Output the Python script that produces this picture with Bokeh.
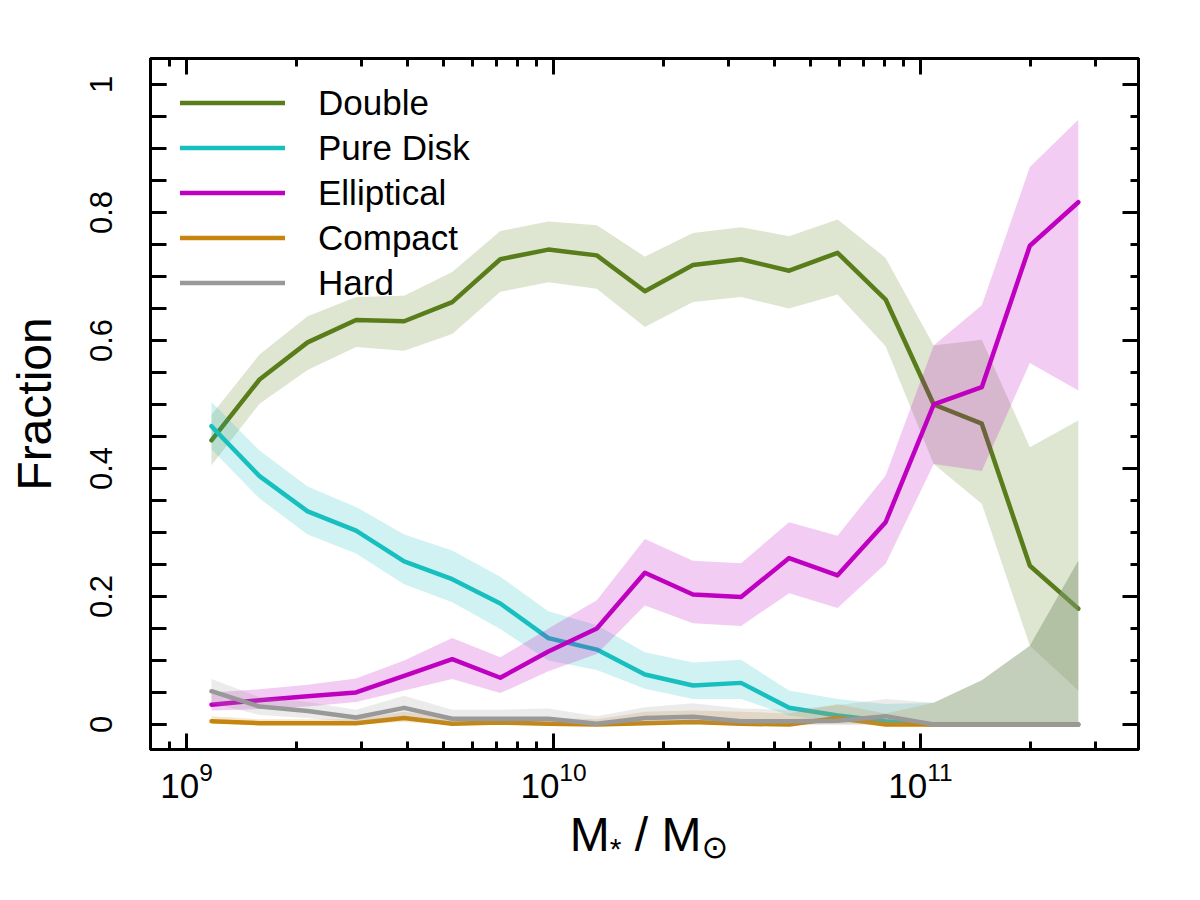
import numpy as np
from bokeh.plotting import figure
from bokeh.layouts import column
from bokeh.models import (ColumnDataSource, FixedTicker, LinearAxis, LogAxis,
                          LogTickFormatter, Legend, LegendItem, Range1d, Div)
from bokeh.embed import file_html
from bokeh.resources import INLINE

# ---------------- data ----------------
log_mass = [9.068, 9.199, 9.330, 9.462, 9.593, 9.724, 9.855, 9.986, 10.118, 10.249,
            10.380, 10.511, 10.642, 10.774, 10.905, 11.036, 11.167, 11.298, 11.430]

double = [0.444, 0.539, 0.597, 0.632, 0.630, 0.660, 0.727, 0.742, 0.733, 0.677,
          0.718, 0.727, 0.709, 0.737, 0.664, 0.500, 0.470, 0.248, 0.181]
double_hi = [0.484, 0.578, 0.638, 0.668, 0.670, 0.707, 0.771, 0.786, 0.780, 0.731,
             0.768, 0.777, 0.763, 0.789, 0.729, 0.592, 0.601, 0.433, 0.475]
double_lo = [0.405, 0.501, 0.554, 0.590, 0.584, 0.610, 0.676, 0.691, 0.681, 0.621,
             0.660, 0.668, 0.650, 0.672, 0.591, 0.407, 0.345, 0.123, 0.053]

disk = [0.466, 0.388, 0.333, 0.303, 0.255, 0.227, 0.189, 0.135, 0.117, 0.078,
        0.061, 0.065, 0.026, 0.014, 0.005, 0.0, 0.0, 0.0, 0.0]
disk_hi = [0.504, 0.428, 0.372, 0.340, 0.297, 0.272, 0.231, 0.177, 0.155, 0.113,
           0.097, 0.101, 0.053, 0.040, 0.032, 0.034, 0.069, 0.123, 0.256]
disk_lo = [0.430, 0.353, 0.297, 0.267, 0.219, 0.191, 0.149, 0.100, 0.085, 0.056,
           0.040, 0.040, 0.014, 0.004, 0.0, 0.0, 0.0, 0.0, 0.0]

ellip = [0.031, 0.038, 0.044, 0.050, 0.076, 0.102, 0.073, 0.114, 0.150, 0.237,
         0.203, 0.199, 0.260, 0.233, 0.316, 0.500, 0.527, 0.748, 0.816]
ellip_hi = [0.050, 0.055, 0.062, 0.072, 0.100, 0.135, 0.105, 0.150, 0.194, 0.290,
            0.256, 0.252, 0.316, 0.295, 0.389, 0.592, 0.655, 0.871, 0.945]
ellip_lo = [0.022, 0.024, 0.028, 0.035, 0.053, 0.071, 0.049, 0.083, 0.110, 0.186,
            0.158, 0.154, 0.205, 0.182, 0.251, 0.407, 0.396, 0.565, 0.522]

compact = [0.005, 0.002, 0.002, 0.002, 0.010, 0.001, 0.003, 0.001, 0.000, 0.002,
           0.004, 0.001, 0.000, 0.010, 0.000, 0.0, 0.0, 0.0, 0.0]
compact_hi = [0.013, 0.008, 0.008, 0.008, 0.020, 0.010, 0.012, 0.010, 0.008, 0.020,
              0.022, 0.020, 0.017, 0.032, 0.017, 0.034, 0.069, 0.123, 0.256]
compact_lo = [0.001, 0.0, 0.0, 0.0, 0.004, 0.0, 0.0, 0.0, 0.0, 0.0,
              0.0, 0.0, 0.0, 0.0, 0.0, 0.0, 0.0, 0.0, 0.0]

hard = [0.052, 0.028, 0.021, 0.011, 0.026, 0.009, 0.009, 0.009, 0.001, 0.010,
        0.012, 0.005, 0.005, 0.006, 0.013, 0.0, 0.0, 0.0, 0.0]
hard_hi = [0.071, 0.043, 0.035, 0.023, 0.045, 0.023, 0.023, 0.025, 0.013, 0.027,
           0.033, 0.025, 0.023, 0.030, 0.040, 0.034, 0.069, 0.123, 0.256]
hard_lo = [0.033, 0.015, 0.010, 0.003, 0.012, 0.001, 0.001, 0.001, 0.0, 0.001,
           0.002, 0.0, 0.0, 0.0, 0.0, 0.0, 0.0, 0.0, 0.0]

categories = ["Double", "Pure Disk", "Elliptical", "Compact", "Hard"]
colors = ["#587D1A", "#17BFBF", "#C000C0", "#C5850F", "#999999"]

x_ticks = [1e9, 1e10, 1e11]
y_ticks = [0.0, 0.2, 0.4, 0.6, 0.8, 1.0]
y_tick_labels = ["0", "0.2", "0.4", "0.6", "0.8", "1"]
x_title_html = ('M<span style="font-size:30px;position:relative;top:8px">*</span>'
                ' / M<span style="font-family:\'DejaVu Sans\';font-size:32px;'
                'position:relative;top:7px">\u2299</span>')
y_title = "Fraction"

FONT = "Liberation Sans"

# ---------------- build ----------------
src = ColumnDataSource(dict(
    mass=[10 ** v for v in log_mass],
    double=double, double_hi=double_hi, double_lo=double_lo,
    disk=disk, disk_hi=disk_hi, disk_lo=disk_lo,
    ellip=ellip, ellip_hi=ellip_hi, ellip_lo=ellip_lo,
    compact=compact, compact_hi=compact_hi, compact_lo=compact_lo,
    hard=hard, hard_hi=hard_hi, hard_lo=hard_lo,
))

p = figure(x_axis_type="log",
           x_range=Range1d(10 ** 8.9019, 10 ** 11.594),
           y_range=Range1d(-0.0391, 1.0406),
           frame_width=988, frame_height=691,
           min_border_left=150, min_border_top=58,
           min_border_right=46, min_border_bottom=65,
           output_backend="svg", toolbar_location=None,
           background_fill_color="white", border_fill_color="white")
p.xgrid.visible = False
p.ygrid.visible = False
p.outline_line_color = "black"
p.outline_line_width = 3

keys = ["double", "disk", "ellip", "compact", "hard"]
line_renderers = []
for key, col in zip(keys, colors):
    p.varea(x="mass", y1=key + "_lo", y2=key + "_hi", source=src,
            fill_color=col, fill_alpha=0.2)
    r = p.line(x="mass", y=key, source=src, line_color=col, line_width=4.5,
               line_join="round", line_cap="round")
    line_renderers.append(r)

x_minor = [m * 10 ** e for e in (8, 9, 10, 11) for m in range(2, 10)]
y_minor = [round(0.05 * k, 2) for k in range(0, 21)]
xticker = FixedTicker(ticks=x_ticks, minor_ticks=x_minor)
yticker = FixedTicker(ticks=y_ticks, minor_ticks=y_minor)


def style_axis(ax, major_in=16, minor_in=8):
    ax.axis_line_width = 3
    ax.axis_line_color = "black"
    ax.major_tick_in = major_in
    ax.major_tick_out = 0
    ax.minor_tick_in = minor_in
    ax.minor_tick_out = 0
    ax.major_tick_line_width = 3
    ax.minor_tick_line_width = 3
    ax.major_tick_line_color = "black"
    ax.minor_tick_line_color = "black"
    ax.major_label_text_font = FONT
    ax.axis_label_text_font = FONT
    ax.axis_label_text_font_style = "normal"
    ax.major_label_text_color = "black"
    ax.axis_label_text_color = "black"


# bottom axis
xa = p.xaxis[0]
xa.ticker = xticker
xa.formatter = LogTickFormatter()
style_axis(xa, 16, 8)
xa.major_label_text_font_size = "35px"
xa.major_label_standoff = 12
xa.axis_label = None

# left axis
ya = p.yaxis[0]
ya.ticker = yticker
style_axis(ya, 16, 16)
ya.major_label_overrides = {t: l for t, l in zip(y_ticks, y_tick_labels)}
ya.major_label_text_font_size = "31px"
ya.major_label_orientation = "parallel"
ya.major_label_standoff = 38
ya.axis_label = y_title
ya.axis_label_text_font_size = "48px"
ya.axis_label_standoff = 27

# top axis (ticks only)
ta = LogAxis(ticker=xticker)
style_axis(ta, 16, 8)
ta.major_label_text_font_size = "0px"
ta.major_label_text_color = None
ta.major_label_standoff = 0
p.add_layout(ta, "above")

# right axis (ticks only)
ra = LinearAxis(ticker=yticker)
style_axis(ra, 16, 8)
ra.major_label_text_font_size = "0px"
ra.major_label_text_color = None
ra.major_label_standoff = 0
p.add_layout(ra, "right")

legend = Legend(
    items=[LegendItem(label=c, renderers=[r]) for c, r in zip(categories, line_renderers)],
    location=(30, 444),
    label_text_font=FONT, label_text_font_size="35px", label_text_color="black",
    glyph_width=105, glyph_height=45, label_height=45,
    spacing=0, padding=0, margin=0, label_standoff=33,
    background_fill_alpha=0, border_line_color=None,
)
p.add_layout(legend)

# x-axis title with the sub-scripted symbols, set as HTML text under the figure
x_title = Div(
    text=('<div style="position:relative;top:-8px;width:1184px;box-sizing:border-box;'
          'padding-left:104px;text-align:center;font-family:\'Liberation Sans\';'
          'font-size:48px;line-height:1;color:black;white-space:nowrap">'
          + x_title_html + '</div>'),
    width=1184, height=70)

layout = column(p, x_title, spacing=0)
open("out.html", "w").write(file_html(layout, INLINE))
